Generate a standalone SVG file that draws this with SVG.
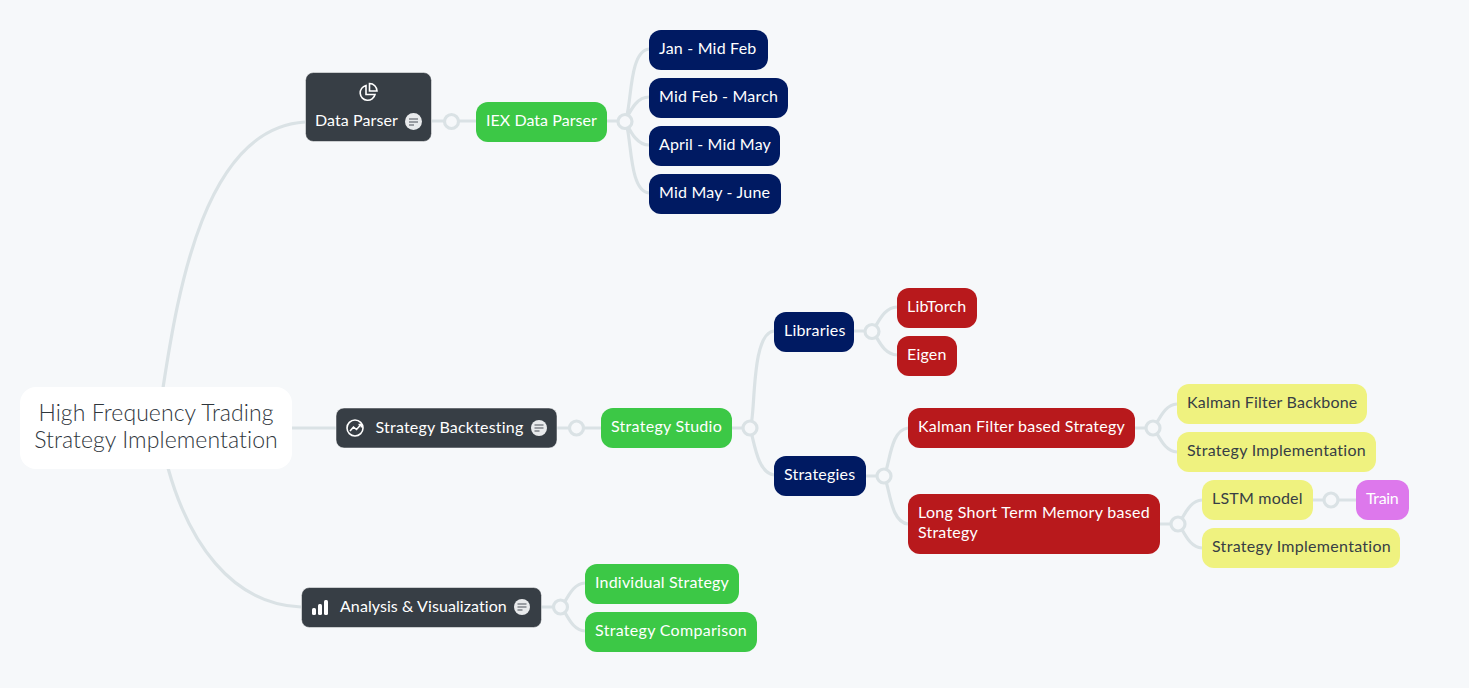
<svg xmlns="http://www.w3.org/2000/svg" width="1469" height="688" viewBox="0 0 1469 688">
<style>
text{font-family:"Lato","Open Sans","Liberation Sans",sans-serif;font-size:16px;fill:#fff;letter-spacing:.2px}
.root{font-size:23px;fill:#2f363c;font-weight:300;letter-spacing:.08px}
.dark{fill:#373e45;stroke:#fff;stroke-width:.5}
.green{fill:#3cc846}.navy{fill:#001a62}.red{fill:#b8191c}.yellow{fill:#eff27f}.purple{fill:#dd78ec}
.yt{fill:#373e45}
.c path{fill:none;stroke:#dae2e5;stroke-width:3.200}
.c circle{fill:#f6f8fa;stroke:#dae2e5;stroke-width:3.200}
.note{fill:#e8eaec}.nl{stroke:#4a5058;stroke-width:1.2}
.i{fill:none;stroke:#fff;stroke-width:1.6}
</style>
<rect width="1469" height="688" fill="#f6f8fa"/>
<g class="c" id="connectors">
<path d="M163 388C178 290 205 128 305 122"/>
<path d="M292 428H336"/>
<path d="M168 468C188 540 230 604 301 607"/>
<path d="M432 121H476"/><circle cx="451.500" cy="121.500" r="7"/>
<path d="M607 121H625M625 121C632 110 628 51 649 49M625 121C630 112 636 97 649 97M625 121C630 130 636 145 649 145M625 121C632 132 628 191 649 193"/><circle cx="625" cy="121.500" r="7"/>
<path d="M557 428H601"/><circle cx="576.500" cy="428" r="7"/>
<path d="M732 428H750M750 428C756 420 750 333 774 331M750 428C754 440 757 473 774 475"/><circle cx="750" cy="428" r="7"/>
<path d="M854 331H872M872 331C878 325 882 308 897 307M872 331C878 337 882 354 897 355"/><circle cx="872" cy="331.500" r="7"/>
<path d="M866 476H884M884 476C890 465 890 430 908 428M884 476C890 487 890 522 908 524"/><circle cx="884" cy="476" r="7"/>
<path d="M1135 428H1153M1153 428C1159 422 1163 405 1177 404M1153 428C1159 434 1163 451 1177 452"/><circle cx="1153" cy="428" r="7"/>
<path d="M1160 524H1178M1178 524C1184 518 1188 501 1202 500M1178 524C1184 530 1188 547 1202 548"/><circle cx="1178" cy="524" r="7"/>
<path d="M1313 500H1356"/><circle cx="1331" cy="500" r="7"/>
<path d="M541 607H561M561 607C567 601 571 584 585 583M561 607C567 613 571 630 585 631"/><circle cx="560.500" cy="607" r="7"/>
</g>
<g id="root"><rect x="20" y="387" width="272" height="82" rx="16" fill="#fff"/>
<text class="root" x="156" y="421" text-anchor="middle">High Frequency Trading</text>
<text class="root" x="156" y="448" text-anchor="middle">Strategy Implementation</text></g>
<g id="data-parser"><rect class="dark" x="305.500" y="72.500" width="126" height="69" rx="8"/>
<path class="i" d="M366 85.500a7.500 7.500 0 1 0 9 9h-9zM369.500 83.500v7.500h7.500a7.500 7.500 0 0 0-7.500-7.500z"/>
<text x="315" y="126" textLength="83">Data Parser</text>
<circle class="note" cx="413.500" cy="121.500" r="8.500"/><path class="nl" d="M409 119h9M409 122h9M409 125h5"/></g>
<g id="iex"><rect class="green" x="476" y="102" width="131" height="40" rx="12"/><text x="486" y="126" textLength="111">IEX Data Parser</text></g>
<g id="jan"><rect class="navy" x="649" y="30" width="119" height="40" rx="12"/><text x="659" y="54">Jan - Mid Feb</text></g>
<g id="feb"><rect class="navy" x="649" y="78" width="139" height="40" rx="12"/><text x="659" y="102">Mid Feb - March</text></g>
<g id="apr"><rect class="navy" x="649" y="126" width="131" height="40" rx="12"/><text x="659" y="150" textLength="112">April - Mid May</text></g>
<g id="may"><rect class="navy" x="649" y="174" width="132" height="40" rx="12"/><text x="659" y="198">Mid May - June</text></g>
<g id="backtesting"><rect class="dark" x="336" y="408" width="221" height="40" rx="8"/>
<circle class="i" cx="355" cy="428" r="8"/><path class="i" d="M350 431l3.500-4 3 2.500 4.500-5M358.500 424.500h3v3"/>
<text x="375.500" y="433" textLength="148">Strategy Backtesting</text>
<circle class="note" cx="539" cy="428" r="8"/><path class="nl" d="M534.500 425h9M534.500 428h9M534.500 431h5"/></g>
<g id="studio"><rect class="green" x="601" y="408" width="131" height="40" rx="12"/><text x="611" y="432" textLength="111">Strategy Studio</text></g>
<g id="libraries"><rect class="navy" x="774" y="312" width="80" height="40" rx="12"/><text x="784" y="336">Libraries</text></g>
<g id="strategies"><rect class="navy" x="774" y="456" width="92" height="40" rx="12"/><text x="784" y="480">Strategies</text></g>
<g id="libtorch"><rect class="red" x="897" y="288" width="80" height="40" rx="12"/><text x="907" y="312">LibTorch</text></g>
<g id="eigen"><rect class="red" x="897" y="336" width="60" height="40" rx="12"/><text x="907" y="360">Eigen</text></g>
<g id="kalman"><rect class="red" x="908" y="408" width="227" height="40" rx="12"/><text x="918" y="432" textLength="207">Kalman Filter based Strategy</text></g>
<g id="lstm"><rect class="red" x="908" y="494" width="252" height="60" rx="12"/><text x="918" y="518" textLength="232">Long Short Term Memory based</text><text x="918" y="538">Strategy</text></g>
<g id="kalman-backbone"><rect class="yellow" x="1177" y="384" width="190" height="40" rx="12"/><text class="yt" x="1187" y="408">Kalman Filter Backbone</text></g>
<g id="impl1"><rect class="yellow" x="1177" y="432" width="199" height="40" rx="12"/><text class="yt" x="1187" y="456" textLength="179">Strategy Implementation</text></g>
<g id="lstm-model"><rect class="yellow" x="1202" y="480" width="111" height="40" rx="12"/><text class="yt" x="1212" y="504">LSTM model</text></g>
<g id="train"><rect class="purple" x="1356" y="480" width="53" height="40" rx="12"/><text x="1366" y="504" textLength="33">Train</text></g>
<g id="impl2"><rect class="yellow" x="1202" y="528" width="198" height="40" rx="12"/><text class="yt" x="1212" y="552" textLength="179">Strategy Implementation</text></g>
<g id="analysis"><rect class="dark" x="301.500" y="587.500" width="240" height="40" rx="8"/>
<rect x="312" y="608" width="4" height="7" rx="1.500" fill="#fff"/><rect x="318" y="604" width="4" height="11" rx="1.500" fill="#fff"/><rect x="324" y="600" width="4" height="15" rx="1.500" fill="#fff"/>
<text x="340" y="612" textLength="167">Analysis &amp; Visualization</text>
<circle class="note" cx="522" cy="607" r="8"/><path class="nl" d="M517.500 604h9M517.500 607h9M517.500 610h5"/></g>
<g id="individual"><rect class="green" x="585" y="564" width="154" height="40" rx="12"/><text x="595" y="588" textLength="134">Individual Strategy</text></g>
<g id="comparison"><rect class="green" x="585" y="612" width="172" height="40" rx="12"/><text x="595" y="636" textLength="152">Strategy Comparison</text></g>
</svg>
